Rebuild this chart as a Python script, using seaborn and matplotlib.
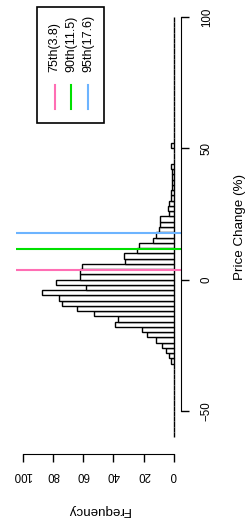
import numpy as np
import pandas as pd
import matplotlib
matplotlib.use("Agg")
import matplotlib.pyplot as plt
import seaborn as sns
from matplotlib.lines import Line2D
from matplotlib.patches import Rectangle

# --- Données : histogramme des variations de prix (classes de 2 points) ---
bin_edges = list(range(-60, 102, 2))
freq = [0, 0, 0, 0, 0, 0, 0, 0, 0, 0,            # -60 .. -42
        0, 0, 0, 0,                              # -40 .. -34
        2, 3, 5, 8, 12, 18, 21, 39, 37, 53,      # -32 .. -14
        64, 74, 76, 87, 58, 78,                  # -12 .. -2
        62, 62, 61, 32, 33, 24, 23, 14, 12, 10,  # 0 .. 18
        9, 9, 3, 4, 3, 2, 2, 1, 1, 1,            # 20 .. 38
        1, 2, 0, 0, 0, 2,                        # 40 .. 50
        0, 0, 0, 0, 0, 0, 0, 0, 0, 0, 0, 0,      # 52 .. 74
        0, 0, 0, 0, 0, 0, 0, 0, 0, 0, 0, 0]      # 76 .. 98

pct_labels = ["75th", "90th", "95th"]
pct_values = [3.8, 11.5, 17.6]
pct_colors = ["#FF6EB4", "#00E000", "#6CB4FF"]

df = pd.DataFrame({"price": np.array(bin_edges[:-1]) + 1, "n": freq})

W, H = 246, 523
plt.rcParams["font.family"] = ["Liberation Sans", "DejaVu Sans"]

fig = plt.figure(figsize=(W / 100, H / 100), dpi=100)
ax = fig.add_axes([16 / W, 69 / H, 165 / W, 454 / H])

# --- Histogramme (horizontal, figure pivotée) ---
sns.histplot(data=df, y="price", weights="n", bins=bin_edges, ax=ax,
             color="white", edgecolor="black", linewidth=1, alpha=1)

for lab, val, col in zip(pct_labels, pct_values, pct_colors):
    ax.axhline(val, color=col, lw=1.5)

ax.set_xlim(104.4, -4.8)
ax.set_ylim(-66.4, 106.4)

# --- Axes ---
ax.spines["top"].set_visible(False)
ax.spines["left"].set_visible(False)
ax.spines["bottom"].set_bounds(0, 100)
ax.spines["right"].set_bounds(-50, 100)
ax.set_xticks([0, 20, 40, 60, 80, 100])
ax.set_yticks([-50, 0, 50, 100])
ax.yaxis.tick_right()
ax.tick_params(axis="x", direction="out", length=5.8, width=1,
               labelsize=8.3, labelrotation=180, pad=5)
ax.tick_params(axis="y", direction="out", length=5.8, width=1,
               labelsize=8.3, labelrotation=90, pad=8.5)
for lbl in ax.get_yticklabels():
    lbl.set_va("center")

ax.set_xlabel("Frequency", rotation=180, fontsize=9.6, labelpad=16.5)
ax.yaxis.set_label_position("right")
ax.set_ylabel("Price Change (%)", rotation=90, fontsize=9.6, labelpad=15.5)

# --- Légende (pivotée elle aussi) ---
fig.add_artist(Rectangle((37 / W, 1 - 123 / H), 67 / W, 116 / H,
                         transform=fig.transFigure, fill=False,
                         ec="black", lw=1.2))
for i, (lab, val, col) in enumerate(zip(pct_labels, pct_values, pct_colors)):
    xp = (54.5 + 16.7 * i) / W
    fig.add_artist(Line2D([xp, xp], [1 - 109 / H, 1 - 85 / H],
                          transform=fig.transFigure, color=col, lw=1.5))
    fig.text(xp, 1 - 72 / H, f"{lab}({val})", rotation=90, fontsize=9,
             ha="center", va="bottom")

fig.savefig("out.png", dpi=100)
